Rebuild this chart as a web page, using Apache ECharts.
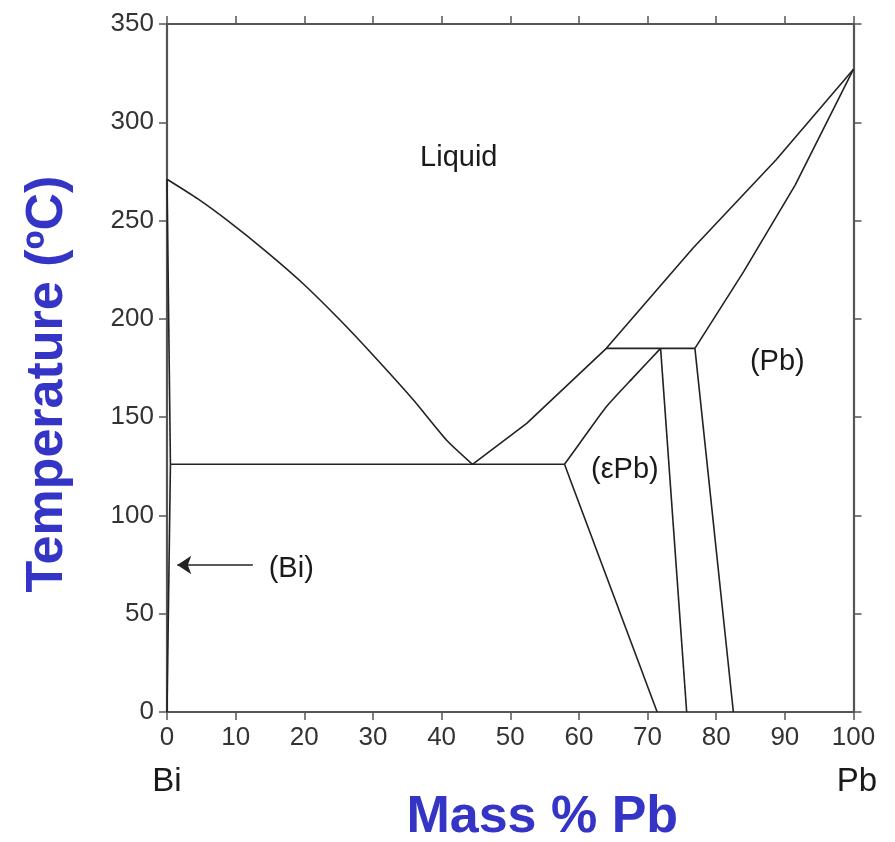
<!DOCTYPE html>
<html>
<head>
<meta charset="utf-8">
<script src="https://cdn.jsdelivr.net/npm/echarts@6/dist/echarts.min.js"></script>
<style>html,body{margin:0;padding:0;background:#fff}#c{width:895px;height:842px}</style>
</head>
<body>
<div id="c"></div>
<script>
// ---- data (mass % Pb, temperature °C) ----
var xTicks = [0,10,20,30,40,50,60,70,80,90,100];
var yTicks = [0,50,100,150,200,250,300,350];
var liquidusBi = [[0,271],[4.5,261],[8.7,250.3],[14.5,234.1],[19.8,218],[25.2,199.4],[30,181.6],[35.9,158.7],[40.7,138.4],[44.5,126]];
var liquidusPb = [[44.5,126],[52.4,146.8],[64,185],[76.6,235.9],[88.7,280.8],[100,327]];
var solidusPb = [[100,327],[91.5,268],[84,224],[76.9,185]];
var solidusBi = [[0,271],[0.5,126]];
var solvusBi = [[0.5,126],[0,0]];
var eutecticLine = [[0.5,126],[57.9,126]];
var peritecticLine = [[64,185],[76.9,185]];
var epsLeftUpper = [[57.9,126],[61,141],[64,155.3],[68,170.5],[71.9,185]];
var epsLeftLower = [[57.9,126],[71.4,0]];
var epsRight = [[71.9,185],[75.7,0]];
var solvusPb = [[76.9,185],[82.5,0]];
var arrowBi = [[12.5,74.8],[1.5,74.8]];
var phaseLabels = [
  {name:'Liquid', value:[42.5,282]},
  {name:'(\u03b5Pb)', value:[66.7,123]},
  {name:'(Pb)', value:[88.9,178]},
  {name:'(Bi)', value:[18.1,72.5]}
];
var endLabels = [
  {name:'Bi', value:[0,-35.5]},
  {name:'Pb', value:[100.5,-35.5]}
];

var FONT = '"Liberation Sans", Arial, Helvetica, sans-serif';
var LINE = {color:'#222', width:1.6};
function curve(d, smooth){
  return {type:'line', data:d, showSymbol:false, symbol:'none', smooth:smooth||false,
          lineStyle:LINE, silent:true, animation:false, clip:false};
}
var axisLineStyle = {show:true, onZero:false, lineStyle:{color:'#555', width:2.2}};
var tickStyle = {show:true, inside:false, length:8, lineStyle:{color:'#555', width:1.5}};

var chart = echarts.init(document.getElementById('c'), null, {renderer:'canvas'});
chart.setOption({
  backgroundColor:'#fff',
  animation:false,
  grid:{left:167, right:41.5, top:24, bottom:130, containLabel:false, outerBoundsMode:'none'},
  xAxis:[
    {type:'value', min:0, max:100, interval:10, position:'bottom',
     axisLine:axisLineStyle, axisTick:tickStyle, splitLine:{show:false},
     axisLabel:{color:'#333', fontSize:26, fontFamily:FONT, margin:13},
     name:'Mass % Pb', nameLocation:'middle', nameGap:80,
     nameTextStyle:{color:'#3434c6', fontSize:52, fontWeight:'bold', fontFamily:FONT, padding:[0,0,0,64]}},
    {type:'value', min:0, max:100, interval:10, position:'top',
     axisLine:axisLineStyle, axisTick:tickStyle, splitLine:{show:false}, axisLabel:{show:false}}
  ],
  yAxis:[
    {type:'value', min:0, max:350, interval:50, position:'left',
     axisLine:axisLineStyle, axisTick:tickStyle, splitLine:{show:false},
     axisLabel:{color:'#333', fontSize:26, fontFamily:FONT, margin:13},
     name:'Temperature (\u00baC)', nameLocation:'middle', nameGap:93, nameRotate:90,
     nameTextStyle:{color:'#3434c6', fontSize:52, fontWeight:'bold', fontFamily:FONT, padding:[0,32,0,0]}},
    {type:'value', min:0, max:350, interval:50, position:'right',
     axisLine:axisLineStyle, axisTick:tickStyle, splitLine:{show:false}, axisLabel:{show:false}}
  ],
  series:[
    curve(liquidusBi, 0.2),
    curve(liquidusPb),
    curve(solidusPb),
    curve(solidusBi),
    curve(solvusBi),
    curve(eutecticLine),
    curve(peritecticLine),
    curve(epsLeftUpper, 0.2),
    curve(epsLeftLower),
    curve(epsRight),
    curve(solvusPb),
    {type:'lines', coordinateSystem:'cartesian2d', silent:true, animation:false,
     symbol:['none','arrow'], symbolSize:14,
     lineStyle:{color:'#222', width:1.6, opacity:1},
     data:[{coords:arrowBi}]},
    {type:'scatter', data:phaseLabels, symbolSize:0, silent:true, animation:false, clip:false,
     itemStyle:{opacity:1},
     label:{show:true, position:'inside', formatter:'{b}', color:'#1a1a1a', fontSize:29, fontFamily:FONT}},
    {type:'scatter', data:endLabels, symbolSize:0, silent:true, animation:false, clip:false,
     itemStyle:{opacity:1},
     label:{show:true, position:'inside', formatter:'{b}', color:'#1a1a1a', fontSize:33, fontFamily:FONT}}
  ]
});
</script>
</body>
</html>
